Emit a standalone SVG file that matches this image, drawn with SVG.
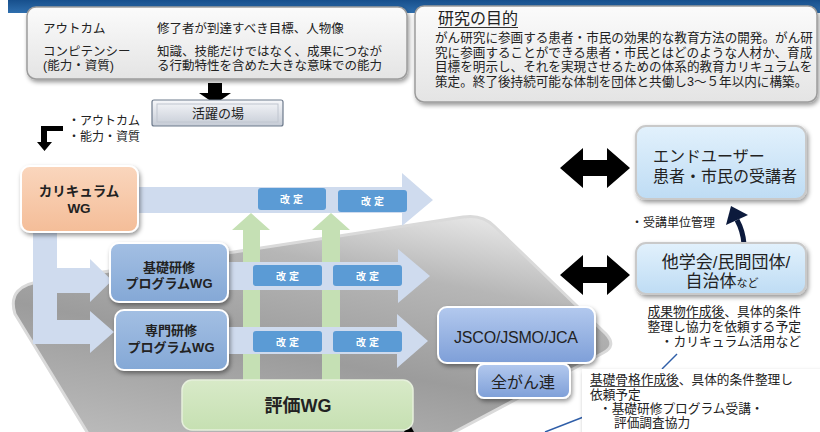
<svg xmlns="http://www.w3.org/2000/svg" width="820" height="432" viewBox="0 0 820 432">
<defs>
  <linearGradient id="gBand" x1="0" y1="0" x2="0" y2="1">
    <stop offset="0" stop-color="#174f8c"/><stop offset="1" stop-color="#2f6fae"/>
  </linearGradient>
  <linearGradient id="gInfo" x1="0" y1="0" x2="0" y2="1">
    <stop offset="0" stop-color="#fbfbfb"/><stop offset="1" stop-color="#e4e4e4"/>
  </linearGradient>
  <linearGradient id="gPlat" x1="0.75" y1="0" x2="0.25" y2="1">
    <stop offset="0" stop-color="#e4e4e4"/><stop offset="0.25" stop-color="#b6b6b6"/>
    <stop offset="0.6" stop-color="#9c9c9c"/><stop offset="1" stop-color="#b9b9b9"/>
  </linearGradient>
  <linearGradient id="gPeach" x1="0" y1="0" x2="0" y2="1">
    <stop offset="0" stop-color="#fad6bd"/><stop offset="1" stop-color="#f4bd98"/>
  </linearGradient>
  <linearGradient id="gBlue" x1="0" y1="0" x2="0" y2="1">
    <stop offset="0" stop-color="#a3bfe3"/><stop offset="1" stop-color="#84a8d6"/>
  </linearGradient>
  <linearGradient id="gJsco" x1="0" y1="0" x2="0" y2="1">
    <stop offset="0" stop-color="#b3c9ee"/><stop offset="1" stop-color="#7e9fd8"/>
  </linearGradient>
  <linearGradient id="gLight" x1="0" y1="0" x2="0" y2="1">
    <stop offset="0" stop-color="#e2f1fc"/><stop offset="1" stop-color="#bedcf4"/>
  </linearGradient>
  <linearGradient id="gGreen" x1="0" y1="0" x2="0" y2="1">
    <stop offset="0" stop-color="#d8eac8"/><stop offset="1" stop-color="#c6e0b2"/>
  </linearGradient>
  <linearGradient id="gPlace" x1="0" y1="0" x2="0" y2="1">
    <stop offset="0" stop-color="#f6f7fa"/><stop offset="1" stop-color="#c6ccd6"/>
  </linearGradient>
  <filter id="sh" x="-10%" y="-10%" width="125%" height="135%">
    <feDropShadow dx="1.5" dy="2.5" stdDeviation="2" flood-color="#000" flood-opacity="0.4"/>
  </filter>
</defs>
<style>
  text { font-family: "Liberation Sans", "Noto Sans CJK JP", sans-serif; fill: #222; }
  .t12 { font-size: 12.5px; }
  .t126 { font-size: 12.6px; }
  .b { font-weight: bold; }
  .mid { text-anchor: middle; }
  .pale { fill: #cfdbee; }
  .green { fill: #c5e0b4; }
  .blk { fill: #000; }
  .kaitei rect { fill: #5b9bd5; }
  .kaitei text { font-size: 10px; font-weight: bold; fill: #fff; letter-spacing: 3px; text-anchor: middle; }
  .wg { stroke: #ffffff; stroke-width: 2; filter: url(#sh); }
  .bl { stroke: #2f5ea8; stroke-width: 1.5; fill: none; }
</style>

<rect width="820" height="432" fill="#ffffff"/>
<rect id="band" x="8" y="0" width="812" height="13" fill="url(#gBand)"/>
<path id="platform" d="M44 281 L463 217 Q482 214 494 226 L606 334 Q617 346 603 353 L430 445 L95 445 L15 314 Q6 285 44 281 Z" fill="url(#gPlat)" stroke="#dadada" stroke-width="3"/>

<g id="connectors">
  <polygon class="blk" points="208,83 222,83 222,93 231,93 215,104 199,93 208,93"/>
  <polygon class="blk" points="63,126 63,131 47,131 47,142 52,142 44.5,151 37,142 41,142 41,126"/>
  <polygon class="green" points="243,382 243,230 232,230 251,213 270,230 260,230 260,382"/>
  <polygon class="green" points="322,382 322,230 312,230 331,213 350,230 340,230 340,382"/>
  <polygon class="pale" points="132,187 402,187 402,173 433,200 402,226 402,213 132,213"/>
  <polygon class="pale" points="225,262 398,262 398,249 430,276 398,303 398,290 225,290"/>
  <polygon class="pale" points="225,327 397,327 397,314 428,341 397,368 397,354 225,354"/>
  <polygon class="pale" points="33,228 57,228 57,268 90,268 90,259 112,280.5 90,302 90,293 57,293 57,320 90,320 90,311 114,332 90,353 90,344 33,344"/>
  <polygon class="blk" points="560,168 583,148 583,160 607,160 607,148 630,168 607,188 607,176 583,176 583,188"/>
  <polygon class="blk" points="560,275 583,255 583,267 607,267 607,255 630,275 607,295 607,283 583,283 583,295"/>
  <path d="M744 244 Q743 231 737 220" fill="none" stroke="#0c1a3c" stroke-width="5"/>
  <polygon points="731,206 726,225 748,215" fill="#0c1a3c"/>
  <line class="bl" x1="662" y1="369" x2="677" y2="354"/>
  <line class="bl" x1="545" y1="432" x2="586" y2="416"/>
  <polygon class="blk" points="404,432 409,423 414,432"/>
</g>

<g id="info-box">
  <rect x="27" y="7" width="380" height="72" rx="9" fill="url(#gInfo)" stroke="#9c9c9c" stroke-width="1.5" filter="url(#sh)"/>
  <text class="t12" x="43" y="33">アウトカム</text>
  <text class="t12" x="43" y="56">コンピテンシー</text>
  <text class="t12" x="43" y="70">(能力・資質)</text>
  <text class="t12" x="157" y="33">修了者が到達すべき目標、人物像</text>
  <text class="t12" x="157" y="56">知識、技能だけではなく、成果につなが</text>
  <text class="t12" x="157" y="70">る行動特性を含めた大きな意味での能力</text>
</g>

<g id="purpose-box">
  <rect x="415" y="6" width="402" height="96" rx="9" fill="url(#gInfo)" stroke="#9c9c9c" stroke-width="1.5" filter="url(#sh)"/>
  <text x="438" y="24" font-size="16">研究の目的</text>
  <line x1="438" y1="27.5" x2="518" y2="27.5" stroke="#333" stroke-width="1"/>
  <text class="t126" x="435" y="42">がん研究に参画する患者・市民の効果的な教育方法の開発。がん研</text>
  <text class="t126" x="435" y="57">究に参画することができる患者・市民とはどのような人材か、育成</text>
  <text class="t126" x="435" y="71">目標を明示し、それを実現させるための体系的教育カリキュラムを</text>
  <text class="t126" x="435" y="86">策定。終了後持続可能な体制を団体と共働し3～５年以内に構築。</text>
</g>

<g id="place">
  <rect x="152" y="100" width="131" height="26" rx="2" fill="url(#gPlace)" stroke="#6d7a8c" stroke-width="1.2"/>
  <rect x="157" y="104" width="121" height="18" fill="none" stroke="#c0c6d0" stroke-width="1"/>
  <text class="mid" x="218" y="118" font-size="13">活躍の場</text>
</g>

<g id="outcome-label">
  <text x="68" y="125" font-size="12">・アウトカム</text>
  <text x="68" y="141" font-size="12">・能力・資質</text>
</g>

<g id="curriculum-wg">
  <rect class="wg" x="21" y="166" width="117" height="66" rx="9" fill="url(#gPeach)"/>
  <text class="b mid" x="79" y="196" font-size="13.5">カリキュラム</text>
  <text class="b mid" x="79" y="213" font-size="13.5">WG</text>
</g>

<g id="basic-wg">
  <rect class="wg" x="110" y="243" width="118" height="59" rx="9" fill="url(#gBlue)"/>
  <text class="b mid" x="169" y="272" font-size="13">基礎研修</text>
  <text class="b mid" x="169" y="288" font-size="13">プログラムWG</text>
</g>

<g id="special-wg">
  <rect class="wg" x="115" y="310" width="113" height="60" rx="9" fill="url(#gBlue)"/>
  <text class="b mid" x="171" y="335" font-size="13">専門研修</text>
  <text class="b mid" x="171" y="352" font-size="13">プログラムWG</text>
</g>

<g id="kaitei-1a" class="kaitei"><rect x="258" y="188" width="68" height="22" rx="3"/><text x="293" y="203">改定</text></g>
<g id="kaitei-1b" class="kaitei"><rect x="338" y="190" width="69" height="22" rx="3"/><text x="374" y="205">改定</text></g>
<g id="kaitei-2a" class="kaitei"><rect x="253" y="265" width="69" height="21" rx="3"/><text x="289" y="279.5">改定</text></g>
<g id="kaitei-2b" class="kaitei"><rect x="333" y="265" width="69" height="21" rx="3"/><text x="369" y="279.5">改定</text></g>
<g id="kaitei-3a" class="kaitei"><rect x="253" y="331" width="69" height="21" rx="3"/><text x="289" y="345.5">改定</text></g>
<g id="kaitei-3b" class="kaitei"><rect x="333" y="331" width="69" height="21" rx="3"/><text x="369" y="345.5">改定</text></g>

<g id="eval-wg">
  <rect x="182" y="380" width="231" height="50" rx="10" fill="url(#gGreen)" stroke="#e6f0dc" stroke-width="1.5"/>
  <text class="b mid" x="298" y="412" font-size="18">評価WG</text>
</g>

<g id="jsco">
  <rect class="wg" x="438" y="307" width="157" height="56" rx="9" fill="url(#gJsco)"/>
  <text class="mid" x="516" y="343" font-size="16" textLength="124">JSCO/JSMO/JCA</text>
</g>

<g id="zengan">
  <rect class="wg" x="477" y="364" width="93" height="34" rx="7" fill="url(#gJsco)"/>
  <text class="mid" x="523" y="388" font-size="16">全がん連</text>
</g>

<g id="end-user">
  <rect x="636" y="126" width="170" height="73" rx="10" fill="url(#gLight)" stroke="#c9c9c9" stroke-width="2" filter="url(#sh)"/>
  <text x="653" y="162" font-size="16">エンドユーザー</text>
  <text x="653" y="182" font-size="16">患者・市民の受講者</text>
</g>

<text id="credit-label" x="631" y="227" font-size="12">・受講単位管理</text>

<g id="other-orgs">
  <rect x="636" y="243" width="170" height="51" rx="10" fill="url(#gLight)" stroke="#c9c9c9" stroke-width="2" filter="url(#sh)"/>
  <text class="mid" x="726" y="268" font-size="17">他学会/民間団体/</text>
  <text class="mid" x="722" y="287" font-size="17">自治体<tspan font-size="11">など</tspan></text>
</g>

<g id="note-orgs">
  <line x1="648" y1="318.5" x2="725" y2="318.5" stroke="#333" stroke-width="0.9"/>
  <text x="801" y="316" font-size="12.8" text-anchor="end">成果物作成後、具体的条件</text>
  <text x="801" y="331" font-size="12.8" text-anchor="end">整理し協力を依頼する予定</text>
  <text x="801" y="346" font-size="12.8" text-anchor="end">・カリキュラム活用など</text>
</g>

<g id="note-basic">
  <rect x="582" y="369" width="240" height="65" fill="#ffffff" filter="url(#sh)"/>
  <line x1="590" y1="386.5" x2="679" y2="386.5" stroke="#333" stroke-width="0.9"/>
  <text x="590" y="384" font-size="12.7">基礎骨格作成後、具体的条件整理し</text>
  <text x="590" y="399" font-size="12.7">依頼予定</text>
  <text x="599" y="413" font-size="12.7">・基礎研修プログラム受講・</text>
  <text x="614" y="427" font-size="12.7">評価調査協力</text>
</g>
</svg>
